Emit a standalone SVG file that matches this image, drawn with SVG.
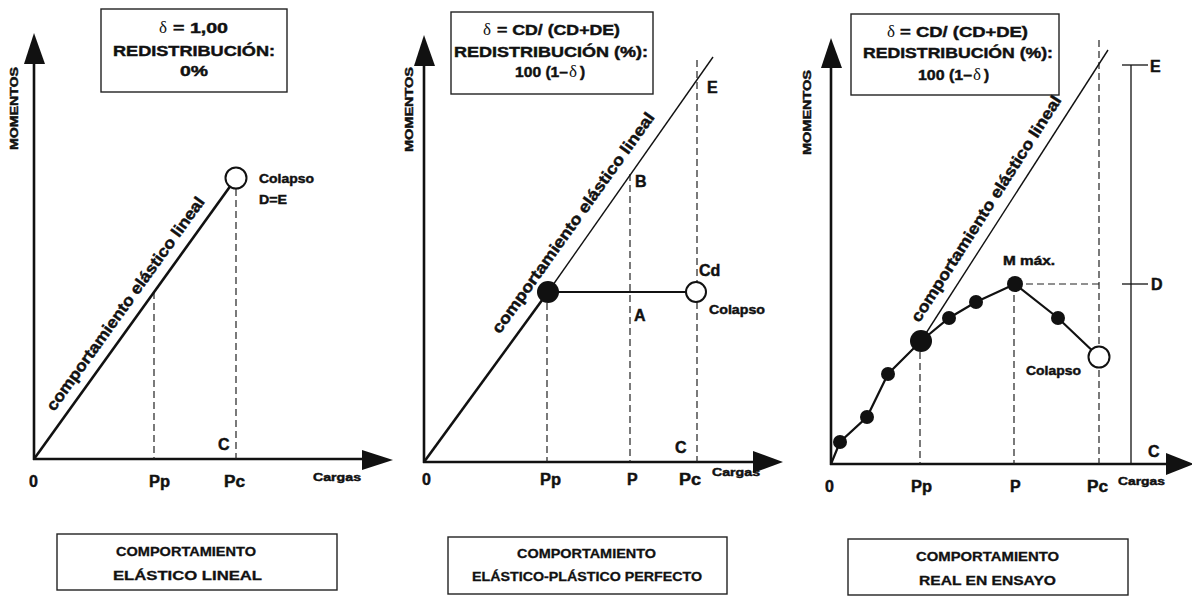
<svg xmlns="http://www.w3.org/2000/svg" width="1192" height="599" viewBox="0 0 1192 599">
<style>
text{font-family:"Liberation Sans",Arial,sans-serif;font-weight:bold;fill:#111;stroke:#111;stroke-width:0.45}
.box{fill:#fff;stroke:#222;stroke-width:1.4}
.axis{stroke:#111;stroke-width:2.6;fill:none}
.arrow{fill:#111}
.dash{stroke:#222;stroke-width:1.2;stroke-dasharray:7 4;fill:none}
.thick{stroke:#111;stroke-width:2.6;fill:none}
.mid{stroke:#111;stroke-width:2.2;fill:none}
.thin{stroke:#111;stroke-width:1.4;fill:none}
.open{fill:#fff;stroke:#111;stroke-width:2}
.dot{fill:#111}
.t15{font-size:15.5px}
.delta{font-family:"Liberation Serif",serif;font-weight:normal;font-size:17px;stroke-width:0}
.mom{font-size:10px}
.lbl{font-size:16px}
.note{font-size:12.5px}
.carg{font-size:11px}
.diag{font-size:16px}
.cap{font-size:12.5px;stroke-width:0.3}
</style>

<!-- PANEL 1 -->
<g id="panel1">
  <g id="p1-topbox">
    <rect class="box" x="101" y="9" width="186" height="83"/>
    <text class="delta" x="159" y="33">δ</text>
    <text class="t15" x="173" y="33" textLength="55" lengthAdjust="spacingAndGlyphs">= 1,00</text>
    <text class="t15" x="113" y="56" textLength="162" lengthAdjust="spacingAndGlyphs">REDISTRIBUCIÓN:</text>
    <text class="t15" x="180" y="76" textLength="28" lengthAdjust="spacingAndGlyphs">0%</text>
  </g>
  <g id="p1-axes">
    <line class="axis" x1="34" y1="62" x2="34" y2="460"/>
    <polygon class="arrow" points="34,33 24,64 45,64"/>
    <line class="axis" x1="33" y1="459" x2="365" y2="459"/>
    <polygon class="arrow" points="393,460 362,450 362,470"/>
    <text class="mom" transform="translate(17.5,150) rotate(-90)" textLength="83" lengthAdjust="spacingAndGlyphs">MOMENTOS</text>
    <text class="lbl" x="29" y="487">0</text>
    <text class="lbl" x="149" y="487" textLength="21" lengthAdjust="spacingAndGlyphs">Pp</text>
    <text class="lbl" x="224" y="487" textLength="21" lengthAdjust="spacingAndGlyphs">Pc</text>
    <text class="carg" x="313" y="481" textLength="48" lengthAdjust="spacingAndGlyphs">Cargas</text>
  </g>
  <g id="p1-connectors">
    <line class="dash" x1="154" y1="292" x2="154" y2="459"/>
    <line class="dash" x1="236" y1="189" x2="236" y2="459"/>
    <line class="thick" x1="34" y1="459" x2="230" y2="186.5"/>
  </g>
  <g id="p1-collapse">
    <circle class="open" cx="236" cy="178" r="10.5"/>
    <text class="note" x="259" y="183" textLength="55" lengthAdjust="spacingAndGlyphs">Colapso</text>
    <text class="note" x="259" y="204" textLength="28" lengthAdjust="spacingAndGlyphs">D=E</text>
  </g>
  <text class="lbl" x="218" y="450">C</text>
  <text class="diag" transform="translate(34,459) rotate(-54.29)" x="50" y="-11" textLength="259" lengthAdjust="spacingAndGlyphs">comportamiento elástico lineal</text>
</g>

<!-- PANEL 2 -->
<g id="panel2">
  <g id="p2-topbox">
    <rect class="box" x="451" y="12" width="202" height="82"/>
    <text class="delta" x="483" y="35">δ</text>
    <text class="t15" x="497" y="35" textLength="123" lengthAdjust="spacingAndGlyphs">= CD/ (CD+DE)</text>
    <text class="t15" x="454" y="57" textLength="194" lengthAdjust="spacingAndGlyphs">REDISTRIBUCIÓN (%):</text>
    <text class="t15" x="515" y="77" textLength="53" lengthAdjust="spacingAndGlyphs">100 (1–</text>
    <text class="delta" x="569" y="77">δ</text>
    <text class="t15" x="580" y="77">)</text>
  </g>
  <g id="p2-axes">
    <line class="axis" x1="424" y1="64" x2="424" y2="463"/>
    <polygon class="arrow" points="424,35 414,66 435,66"/>
    <line class="axis" x1="423" y1="462" x2="755" y2="462"/>
    <polygon class="arrow" points="783,462 753,451 753,473"/>
    <text class="mom" transform="translate(413,152) rotate(-90)" textLength="85" lengthAdjust="spacingAndGlyphs">MOMENTOS</text>
    <text class="lbl" x="422" y="485">0</text>
    <text class="lbl" x="540" y="485" textLength="21" lengthAdjust="spacingAndGlyphs">Pp</text>
    <text class="lbl" x="627" y="485">P</text>
    <text class="lbl" x="679" y="485" textLength="22" lengthAdjust="spacingAndGlyphs">Pc</text>
    <text class="carg" x="712" y="476" textLength="48" lengthAdjust="spacingAndGlyphs">Cargas</text>
  </g>
  <g id="p2-connectors">
    <line class="dash" x1="547" y1="292" x2="547" y2="462"/>
    <line class="dash" x1="630" y1="174" x2="630" y2="462"/>
    <line class="dash" x1="697" y1="60" x2="697" y2="462"/>
    <line class="thin" x1="548" y1="292" x2="713" y2="57"/>
    <line class="thick" x1="424" y1="462" x2="548" y2="292"/>
    <line class="mid" x1="548" y1="292" x2="686" y2="292"/>
  </g>
  <g id="p2-plastic">
    <circle class="dot" cx="548" cy="292" r="11"/>
  </g>
  <g id="p2-collapse">
    <circle class="open" cx="696" cy="292" r="10"/>
    <text class="note" x="709" y="314" textLength="56" lengthAdjust="spacingAndGlyphs">Colapso</text>
  </g>
  <text class="lbl" x="707" y="93">E</text>
  <text class="lbl" x="635" y="187">B</text>
  <text class="lbl" x="699" y="276">Cd</text>
  <text class="lbl" x="634" y="321">A</text>
  <text class="lbl" x="675" y="453">C</text>
  <text class="diag" transform="translate(424,461) rotate(-54.42)" x="147" y="-12" textLength="267" lengthAdjust="spacingAndGlyphs">comportamiento elástico lineal</text>
</g>

<!-- PANEL 3 -->
<g id="panel3">
  <g id="p3-topbox">
    <rect class="box" x="851" y="14" width="208" height="81"/>
    <text class="delta" x="887" y="37">δ</text>
    <text class="t15" x="900" y="37" textLength="128" lengthAdjust="spacingAndGlyphs">= CD/ (CD+DE)</text>
    <text class="t15" x="863" y="58" textLength="190" lengthAdjust="spacingAndGlyphs">REDISTRIBUCIÓN (%):</text>
    <text class="t15" x="918" y="80" textLength="54" lengthAdjust="spacingAndGlyphs">100 (1–</text>
    <text class="delta" x="973" y="80">δ</text>
    <text class="t15" x="984" y="80">)</text>
  </g>
  <g id="p3-axes">
    <line class="axis" x1="831" y1="66" x2="831" y2="465"/>
    <polygon class="arrow" points="831,38 821,68 842,68"/>
    <line class="axis" x1="830" y1="464" x2="1168" y2="464"/>
    <polygon class="arrow" points="1194,464 1166,453 1166,475"/>
    <text class="mom" transform="translate(811,155) rotate(-90)" textLength="85" lengthAdjust="spacingAndGlyphs">MOMENTOS</text>
    <text class="lbl" x="825" y="492">0</text>
    <text class="lbl" x="911" y="492" textLength="21" lengthAdjust="spacingAndGlyphs">Pp</text>
    <text class="lbl" x="1010" y="492">P</text>
    <text class="lbl" x="1087" y="492" textLength="21" lengthAdjust="spacingAndGlyphs">Pc</text>
    <text class="carg" x="1118" y="485" textLength="47" lengthAdjust="spacingAndGlyphs">Cargas</text>
  </g>
  <g id="p3-connectors">
    <line class="dash" x1="920" y1="341" x2="920" y2="464"/>
    <line class="dash" x1="1014" y1="284" x2="1014" y2="464"/>
    <line class="dash" x1="1015" y1="284" x2="1099" y2="284"/>
    <line class="dash" x1="1099" y1="40" x2="1099" y2="464"/>
    <line class="thin" x1="921" y1="341" x2="1108" y2="50"/>
    <polyline class="mid" points="831,464 840,442 867,417 888,374 921,341 949,318 976,302 1015,284 1058,318 1099,357"/>
    <line stroke="#111" stroke-width="1.3" x1="1131" y1="65" x2="1131" y2="464"/>
    <line stroke="#111" stroke-width="1.3" x1="1122" y1="65" x2="1148" y2="65"/>
    <line stroke="#111" stroke-width="1.3" x1="1122" y1="284" x2="1148" y2="284"/>
  </g>
  <g id="p3-points">
    <circle class="dot" cx="840" cy="442" r="7"/>
    <circle class="dot" cx="867" cy="417" r="7"/>
    <circle class="dot" cx="888" cy="374" r="7"/>
    <circle class="dot" cx="921" cy="341" r="11"/>
    <circle class="dot" cx="949" cy="318" r="7"/>
    <circle class="dot" cx="976" cy="302" r="7"/>
    <circle class="dot" cx="1058" cy="318" r="7"/>
  </g>
  <g id="p3-mmax">
    <circle class="dot" cx="1015" cy="284" r="8"/>
    <text class="note" x="1003" y="265" textLength="52" lengthAdjust="spacingAndGlyphs">M máx.</text>
  </g>
  <g id="p3-collapse">
    <circle class="open" cx="1099" cy="357" r="10.5"/>
    <text class="note" x="1026" y="375" textLength="55" lengthAdjust="spacingAndGlyphs">Colapso</text>
  </g>
  <text class="lbl" x="1150" y="72">E</text>
  <text class="lbl" x="1151" y="290">D</text>
  <text class="lbl" x="1148" y="457">C</text>
  <text class="diag" transform="translate(921,341) rotate(-57.4)" x="14" y="-11" textLength="265" lengthAdjust="spacingAndGlyphs">comportamiento elástico lineal</text>
</g>

<!-- BOTTOM CAPTIONS -->
<g id="caption1">
  <rect class="box" x="57" y="534" width="280" height="56"/>
  <text class="cap" x="116" y="556" textLength="140" lengthAdjust="spacingAndGlyphs">COMPORTAMIENTO</text>
  <text class="cap" x="113" y="580" textLength="149" lengthAdjust="spacingAndGlyphs">ELÁSTICO LINEAL</text>
</g>
<g id="caption2">
  <rect class="box" x="448" y="537" width="279" height="57"/>
  <text class="cap" x="517" y="558" textLength="139" lengthAdjust="spacingAndGlyphs">COMPORTAMIENTO</text>
  <text class="cap" x="472" y="581" textLength="230" lengthAdjust="spacingAndGlyphs">ELÁSTICO-PLÁSTICO PERFECTO</text>
</g>
<g id="caption3">
  <rect class="box" x="848" y="539" width="280" height="56"/>
  <text class="cap" x="916" y="561" textLength="143" lengthAdjust="spacingAndGlyphs">COMPORTAMIENTO</text>
  <text class="cap" x="919" y="585" textLength="137" lengthAdjust="spacingAndGlyphs">REAL EN ENSAYO</text>
</g>
</svg>
